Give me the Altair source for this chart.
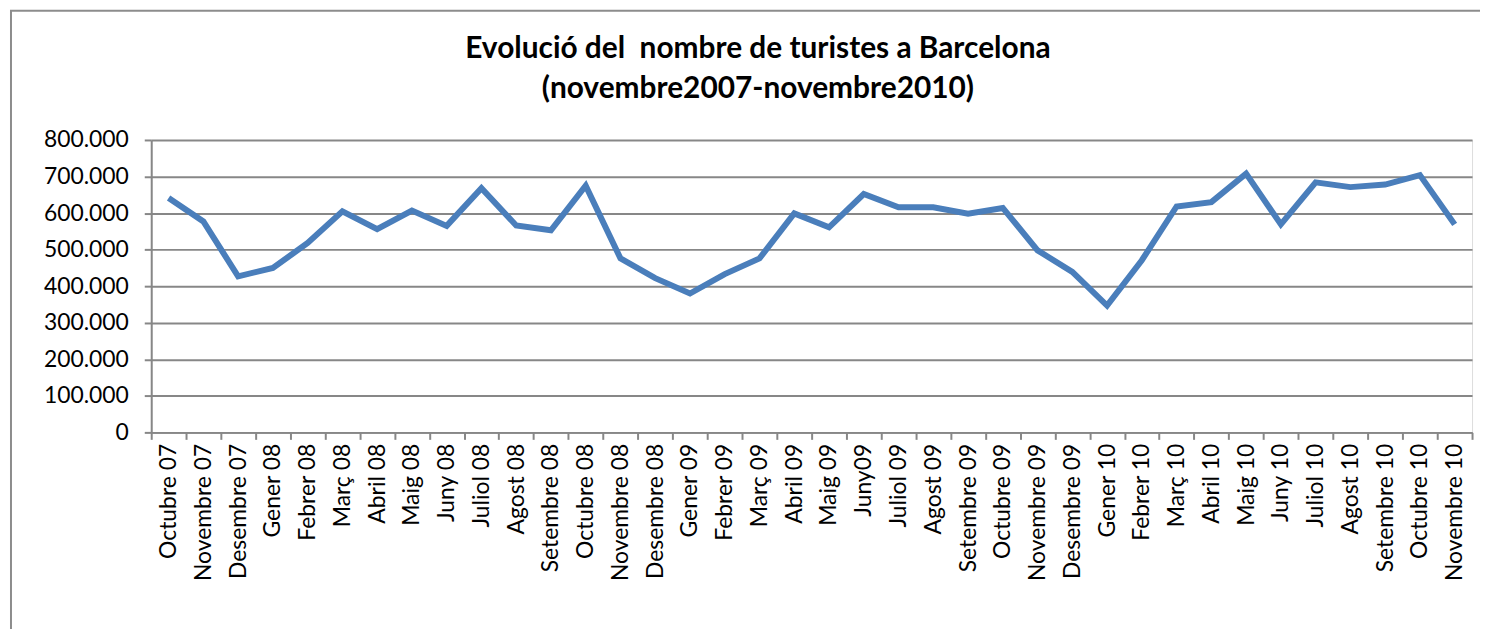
import altair as alt
import pandas as pd

months = [
    "Octubre 07", "Novembre 07", "Desembre 07",
    "Gener 08", "Febrer 08", "Març 08", "Abril 08", "Maig 08", "Juny 08",
    "Juliol 08", "Agost 08", "Setembre 08", "Octubre 08", "Novembre 08", "Desembre 08",
    "Gener 09", "Febrer 09", "Març 09", "Abril 09", "Maig 09", "Juny09",
    "Juliol 09", "Agost 09", "Setembre 09", "Octubre 09", "Novembre 09", "Desembre 09",
    "Gener 10", "Febrer 10", "Març 10", "Abril 10", "Maig 10", "Juny 10",
    "Juliol 10", "Agost 10", "Setembre 10", "Octubre 10", "Novembre 10",
]
tourists = [
    641000, 577000, 427000,
    450000, 518000, 605000, 556000, 607000, 565000,
    668000, 566000, 553000, 675000, 476000, 422000,
    380000, 433000, 476000, 599000, 561000, 652000,
    616000, 616000, 598000, 614000, 498000, 439000,
    347000, 471000, 618000, 630000, 708000, 569000,
    684000, 671000, 678000, 704000, 569000,
]
y_ticks = [0, 100000, 200000, 300000, 400000, 500000, 600000, 700000, 800000]
title_lines = ["Evolució del\u00a0 nombre de turistes a Barcelona", "(novembre2007-novembre2010)"]

df = pd.DataFrame({"mes": months, "turistes": tourists})

FONT = "Lato"
GRID = "#878787"

line = (
    alt.Chart(df)
    .mark_line(color="#4A7EBB", strokeWidth=6, strokeJoin="miter", strokeCap="butt")
    .encode(
        x=alt.X(
            "mes:N",
            sort=months,
            scale=alt.Scale(type="band", paddingInner=0, paddingOuter=0),
            axis=alt.Axis(
                title=None,
                labelAngle=-90,
                labelFontSize=23,
                labelFont=FONT,
                labelColor="black",
                labelPadding=4,
                tickBand="extent",
                tickSize=7,
                tickColor=GRID,
                tickWidth=2,
                domainColor=GRID,
                domainWidth=2,
                grid=False,
                labelOverlap=False,
            ),
        ),
        y=alt.Y(
            "turistes:Q",
            scale=alt.Scale(domain=[0, 800000], nice=False),
            axis=alt.Axis(
                title=None,
                values=y_ticks,
                format=",d",
                labelFontSize=23,
                labelFont=FONT,
                labelColor="black",
                labelPadding=16,
                tickSize=7,
                tickColor=GRID,
                tickWidth=2,
                domainColor=GRID,
                domainWidth=2,
                grid=True,
                gridColor=GRID,
                gridWidth=2,
                gridOpacity=1,
            ),
        ),
    )
)

one = pd.DataFrame({"k": [0]})
frame_left = alt.Chart(one).mark_rule(color="#8C8C8C", strokeWidth=2).encode(
    x=alt.value(-141), y=alt.value(-130), y2=alt.value(500)
)
frame_top = alt.Chart(one).mark_rule(color="#8C8C8C", strokeWidth=2).encode(
    x=alt.value(-142), x2=alt.value(1400), y=alt.value(-130)
)
title1 = alt.Chart(one).mark_text(
    font=FONT, fontSize=30, fontWeight="bold", color="black", align="center", baseline="middle"
).encode(x=alt.value(610), y=alt.value(-91), text=alt.value(title_lines[0]))
title2 = alt.Chart(one).mark_text(
    font=FONT, fontSize=30, fontWeight="bold", color="black", align="center", baseline="middle"
).encode(x=alt.value(610), y=alt.value(-51), text=alt.value(title_lines[1]))

chart = (
    alt.layer(line, frame_left, frame_top, title1, title2)
    .properties(
        width=1328,
        height=294,
        autosize=alt.AutoSizeParams(type="none"),
        padding={"left": 144, "top": 131, "right": 8, "bottom": 196},
    )
    .configure_view(stroke=None)
    .configure(background="white")
)

chart.save(
    "out.html",
    embed_options={
        "renderer": "svg",
        "actions": False,
        "formatLocale": {
            "decimal": ",",
            "thousands": ".",
            "grouping": [3],
            "currency": ["", " €"],
        },
    },
)
